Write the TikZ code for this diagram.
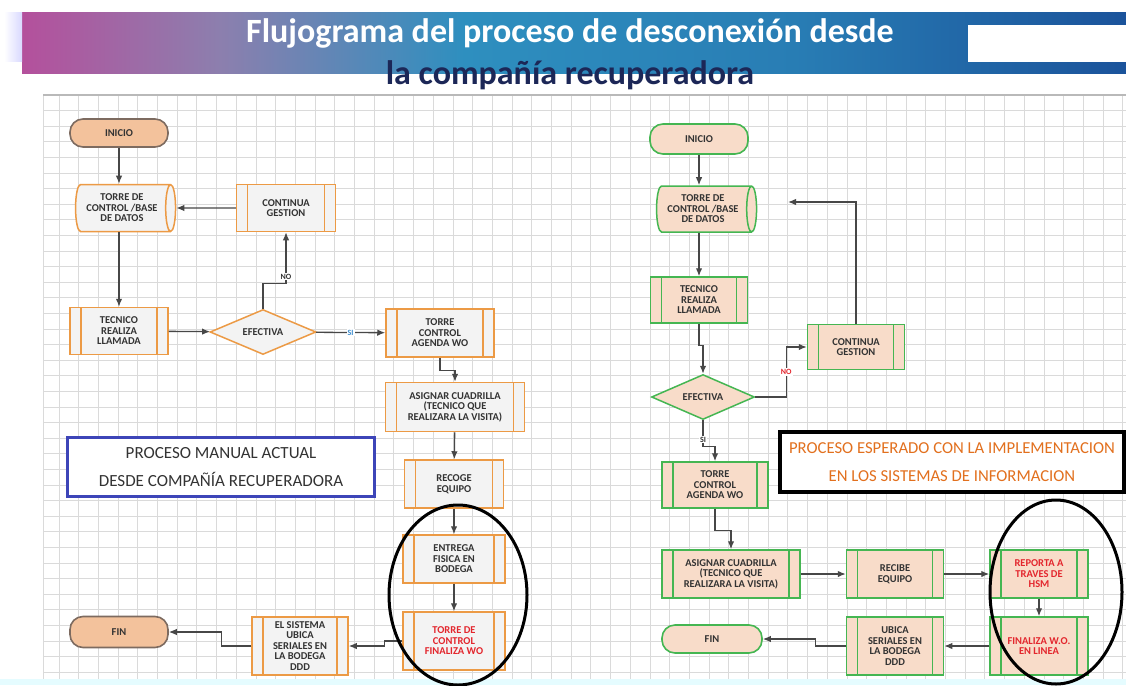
\documentclass[tikz,border=0pt]{standalone}
\usepackage{fontspec}
\setmainfont{Carlito}
\usetikzlibrary{shapes.geometric,arrows.meta,positioning}
\definecolor{naranja}{HTML}{EC9A45}
\definecolor{gris}{HTML}{F3F3F3}
\definecolor{termgris}{HTML}{7D6B60}
\definecolor{termfill}{HTML}{F3C29C}
\definecolor{verde}{HTML}{45B652}
\definecolor{durazno}{HTML}{F8DCC9}
\definecolor{linea}{HTML}{474747}
\definecolor{texto}{HTML}{333333}
\definecolor{rojo}{HTML}{E3262D}
\definecolor{azulsi}{HTML}{3C8DD0}
\definecolor{rejillagris}{HTML}{DADADA}
\definecolor{cajaazul}{HTML}{3D45B8}
\definecolor{naranjatexto}{HTML}{E2701E}
\definecolor{navy}{HTML}{1C2757}
\definecolor{magenta1}{HTML}{B4509C}
\definecolor{grisvioleta}{HTML}{8C7FAE}
\definecolor{azulmedio}{HTML}{2E8FBF}
\definecolor{azulfin}{HTML}{1B539B}
\pgfdeclarehorizontalshading{cabecera}{100bp}{color(0bp)=(magenta1); color(25bp)=(magenta1);
  color(34bp)=(grisvioleta); color(45bp)=(azulmedio); color(60bp)=(azulmedio!70!azulfin);
  color(75bp)=(azulfin); color(100bp)=(azulfin)}
\newcommand{\flujofont}{\fontsize{10.5}{10.5}\selectfont\bfseries}

\begin{document}
\begin{tikzpicture}[x=1pt,y=-1pt,>={Latex[length=8pt,width=6.5pt]},
  rejilla/.style={draw=rejillagris,line width=0.8pt},
  link/.style={->,draw=linea,line width=1.3pt},
  every edge/.style={link},
  wh/.style 2 args={minimum width=#1pt,minimum height=#2pt},
  manual/.style={draw=naranja,fill=gris,/utils/exec={\def\pcolor{naranja}}},
  esperado/.style={draw=verde,fill=durazno,/utils/exec={\def\pcolor{verde}}},
  term/.style={rectangle,rounded corners=13pt,line width=1.6pt,inner sep=1pt,font=\flujofont,text=texto},
  proc/.style={rectangle,line width=1.5pt,inner sep=1pt,align=center,font=\flujofont,text=texto,
    path picture={\draw[draw=\pcolor,line width=1.2pt]
      ([xshift=11pt]path picture bounding box.north west) -- ([xshift=11pt]path picture bounding box.south west)
      ([xshift=-11pt]path picture bounding box.north east) -- ([xshift=-11pt]path picture bounding box.south east);}},
  datos/.style={cylinder,shape aspect=0.33,line width=1.5pt,inner sep=1pt,align=center,font=\flujofont,text=texto},
  decision/.style={diamond,aspect=2.3,line width=1.5pt,inner sep=0pt,font=\flujofont,text=texto},
  etiqueta/.style={fill=white,inner sep=1pt,font=\fontsize{8}{8}\selectfont\bfseries}]

\useasboundingbox (0,0) rectangle (1126,685);
\fill[white] (0,0) rectangle (1126,685);

% header
\shade[shading=cabecera] (22,13) rectangle (1126,73);
\shade[left color=white,right color=blue!15] (4,13) rectangle (22,62);
\fill[white] (968,25) rectangle (1126,62);
\node[font=\fontsize{34}{34}\selectfont\bfseries,text=white] (titulo1) at (570,33) {Flujograma del proceso de desconexión desde};
\node[font=\fontsize{34}{34}\selectfont\bfseries,text=navy] (titulo2) at (570,75) {la compañía recuperadora};

% grid
\foreach \gx in {0,...,54} \draw[rejilla] ({58.9+19.7*\gx},95) -- ({58.9+19.7*\gx},679);
\foreach \gy in {1,...,37} \draw[rejilla] (43,{95+15.6*\gy}) -- (1126,{95+15.6*\gy});
\draw[rejilla] (43,95) -- (43,679);
\draw[draw=gray!55,line width=1.4pt] (43,95) -- (1126,95);
\fill[blue!12!cyan!10] (0,679) rectangle (1126,685);

% proceso manual actual
\node[term,draw=termgris,fill=termfill,wh={98}{28}] (ini1) at (119,133) {INICIO};
\node[datos,manual,wh={47}{100}] (bd1) at (122,208) {TORRE DE\\CONTROL /BASE\\DE DATOS};
\node[proc,manual,wh={99}{47}] (cont1) at (286,208) {CONTINUA\\GESTION};
\node[proc,manual,wh={98}{47}] (tec1) at (119,331) {TECNICO\\REALIZA\\LLAMADA};
\node[decision,manual,wh={106}{45}] (efec1) at (263,332) {EFECTIVA};
\node[proc,manual,wh={108}{48}] (agen1) at (440,333) {TORRE\\CONTROL\\AGENDA WO};
\node[proc,manual,wh={139}{49}] (asig1) at (455,407) {ASIGNAR CUADRILLA\\(TECNICO QUE\\REALIZARA LA VISITA)};
\node[proc,manual,wh={99}{48}] (reco1) at (454,484) {RECOGE\\EQUIPO};
\node[proc,manual,wh={102}{48}] (entr1) at (454,559) {ENTREGA\\FISICA EN\\BODEGA};
\node[proc,manual,wh={102}{58},text=rojo] (fina1) at (454,641) {TORRE DE\\CONTROL\\FINALIZA WO};
\node[proc,manual,wh={96}{58}] (sist1) at (300,646) {EL SISTEMA\\UBICA\\SERIALES EN\\LA BODEGA\\DDD};
\node[term,draw=termgris,fill=termfill,wh={98}{31}] (fin1) at (119,632) {FIN};

\path (ini1.south) edge (ini1.south |- bd1.north);
\path (cont1) edge (bd1.east);
\path (tec1.north |- bd1.south) edge (tec1.north);
\path (tec1) edge (efec1);
\draw[link] (efec1.north) -- ++(0,-25) -| node[etiqueta,pos=0.57,text=texto] {NO} (cont1.south);
\path (efec1) edge node[etiqueta,text=azulsi] {SI} (agen1);
\draw[link] (agen1.south) -- ++(0,13) -| (asig1.north);
\path (asig1) edge (reco1);
\path (reco1) edge (entr1);
\path (entr1) edge (fina1);
\draw[link] (fina1.west) -- ++(-18,0) |- (sist1.east);
\draw[link] (sist1.west) -- ++(-30,0) |- (fin1.east);
\draw[line width=3pt] (458,595) ellipse [x radius=69pt,y radius=90pt];

\node[draw=cajaazul,line width=3pt,fill=white,minimum width=307pt,minimum height=59pt,align=center,
  font=\fontsize{17}{28}\selectfont,text=texto] (manualcaja) at (221,467)
  {PROCESO MANUAL ACTUAL\\DESDE COMPAÑÍA RECUPERADORA};

% proceso esperado
\node[term,esperado,wh={98}{30}] (ini2) at (699,139) {INICIO};
\node[datos,esperado,wh={46}{100}] (bd2) at (703,209) {TORRE DE\\CONTROL /BASE\\DE DATOS};
\node[proc,esperado,wh={97}{46}] (tec2) at (699,300) {TECNICO\\REALIZA\\LLAMADA};
\node[proc,esperado,wh={97}{45}] (cont2) at (856,347) {CONTINUA\\GESTION};
\node[decision,esperado,wh={103}{45}] (efec2) at (703,397) {EFECTIVA};
\node[proc,esperado,wh={106}{46}] (agen2) at (715,485) {TORRE\\CONTROL\\AGENDA WO};
\node[proc,esperado,wh={138}{48}] (asig2) at (731,574) {ASIGNAR CUADRILLA\\(TECNICO QUE\\REALIZARA LA VISITA)};
\node[proc,esperado,wh={97}{48}] (reci2) at (895,574) {RECIBE\\EQUIPO};
\node[proc,esperado,wh={98}{48},text=rojo] (repo2) at (1039,574) {REPORTA A\\TRAVES DE\\HSM};
\node[proc,esperado,wh={98}{58},text=rojo] (fina2) at (1039,646) {FINALIZA W.O.\\EN LINEA};
\node[proc,esperado,wh={97}{58}] (ubic2) at (895,646) {UBICA\\SERIALES EN\\LA BODEGA\\DDD};
\node[term,esperado,wh={100}{28}] (fin2) at (712,639) {FIN};
\coordinate (vuelta2) at (788,202);

\path (ini2.south) edge (ini2.south |- bd2.north);
\path (tec2.north |- bd2.south) edge (tec2.north);
\draw[link] (tec2.south) -- ++(0,22) -| (efec2.north);
\draw[link] (efec2.east) -- ++(31,0) |- node[etiqueta,pos=0.25,text=rojo] {NO} (cont2.west);
\draw[link] (cont2.north) |- (vuelta2);
\draw[link] (efec2.south) -- ++(0,26) node[etiqueta,pos=0.75,text=texto] {SI} -| (agen2.north);
\draw[link] (agen2.south) -- ++(0,22) -| (asig2.north);
\path (asig2) edge (reci2);
\path (reci2) edge (repo2);
\path (repo2) edge (fina2);
\path (fina2) edge (ubic2);
\draw[link] (ubic2.west) -- ++(-30,0) |- (fin2.east);
\draw[line width=3pt] (1056,592) ellipse [x radius=66pt,y radius=92pt];

\node[draw=black,line width=3.5pt,fill=white,minimum width=344pt,minimum height=60pt,align=center,
  font=\fontsize{16.7}{28}\selectfont,text=naranjatexto] (esperadocaja) at (952,462)
  {PROCESO ESPERADO CON LA IMPLEMENTACION\\EN LOS SISTEMAS DE INFORMACION};
\end{tikzpicture}
\end{document}
